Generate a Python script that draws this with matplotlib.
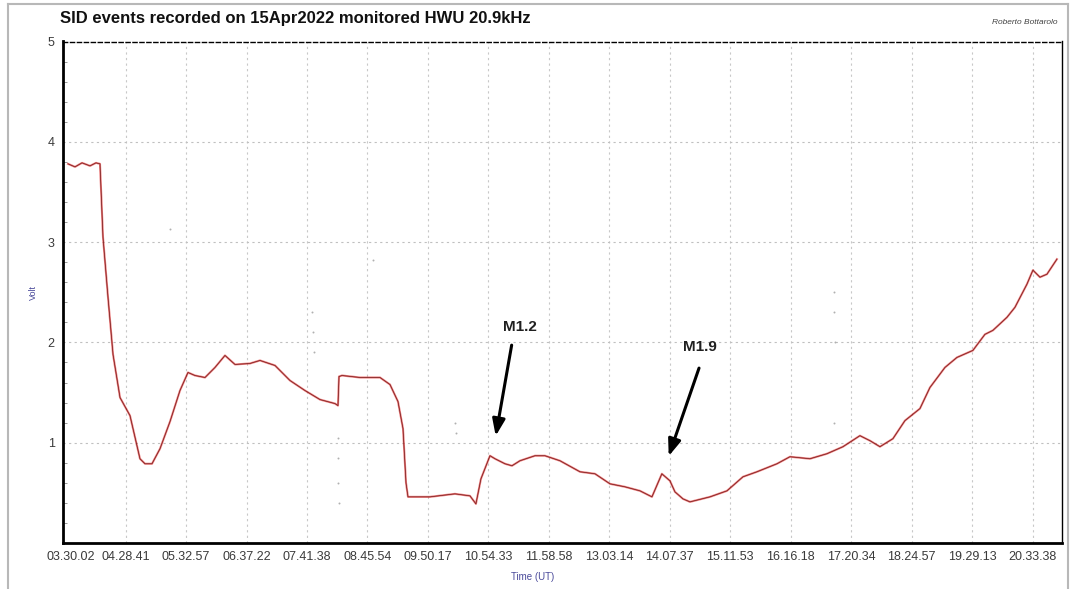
import matplotlib
matplotlib.use("Agg")
import matplotlib.pyplot as plt
from matplotlib.lines import Line2D
from matplotlib.ticker import MultipleLocator

plt.rcParams["font.family"] = ["Liberation Sans", "DejaVu Sans"]

# Tick times (UT) as printed on the time axis
tick_labels = ["03.30.02", "04.28.41", "05.32.57", "06.37.22", "07.41.38",
               "08.45.54", "09.50.17", "10.54.33", "11.58.58", "13.03.14",
               "14.07.37", "15.11.53", "16.16.18", "17.20.34", "18.24.57",
               "19.29.13", "20.33.38"]

# Received signal level, time in decimal hours UT, level in volt
time_h = [3.455, 3.579, 3.703, 3.845, 3.951, 4.022, 4.075, 4.164, 4.253,
          4.377, 4.554, 4.731, 4.820, 4.944, 5.086, 5.263, 5.440, 5.582,
          5.706, 5.884, 6.061, 6.238, 6.416, 6.682, 6.859, 7.125, 7.391,
          7.657, 7.923, 8.189, 8.242, 8.260, 8.313, 8.632, 8.987, 9.164,
          9.306, 9.395, 9.448, 9.483, 9.873, 10.316, 10.582, 10.688, 10.777,
          10.937, 11.026, 11.203, 11.327, 11.469, 11.735, 11.912, 12.178,
          12.533, 12.799, 13.065, 13.331, 13.597, 13.809, 13.985, 14.128,
          14.217, 14.359, 14.483, 14.838, 15.139, 15.423, 15.671, 16.026,
          16.256, 16.611, 16.912, 17.196, 17.497, 17.675, 17.852, 18.082,
          18.295, 18.561, 18.738, 19.004, 19.217, 19.500, 19.713, 19.855,
          20.104, 20.246, 20.458, 20.564, 20.689, 20.813, 20.990]
volt = [3.78, 3.75, 3.79, 3.76, 3.79, 3.78, 3.05, 2.45, 1.88,
        1.45, 1.27, 0.84, 0.79, 0.79, 0.94, 1.21, 1.52, 1.70,
        1.67, 1.65, 1.75, 1.87, 1.78, 1.79, 1.82, 1.77, 1.62,
        1.52, 1.43, 1.39, 1.37, 1.66, 1.67, 1.65, 1.65, 1.58,
        1.41, 1.14, 0.60, 0.46, 0.46, 0.49, 0.47, 0.39, 0.64,
        0.87, 0.84, 0.79, 0.77, 0.82, 0.87, 0.87, 0.82,
        0.71, 0.69, 0.59, 0.56, 0.52, 0.46, 0.69, 0.62,
        0.51, 0.44, 0.41, 0.46, 0.52, 0.66, 0.71, 0.79,
        0.86, 0.84, 0.89, 0.96, 1.07, 1.02, 0.96, 1.04,
        1.22, 1.34, 1.55, 1.75, 1.85, 1.92, 2.08, 2.12,
        2.25, 2.35, 2.58, 2.72, 2.65, 2.68, 2.83]

# Isolated spurious samples
stray_t = [5.26, 7.78, 7.80, 7.82, 8.24, 8.25, 8.24, 8.26, 8.86, 10.31, 10.33,
           17.03, 17.04, 17.05, 17.04]
stray_v = [3.13, 2.30, 2.10, 1.90, 1.05, 0.85, 0.60, 0.40, 2.82, 1.20, 1.10,
           2.50, 2.30, 2.00, 1.20]

# Flare annotations: label, text position, arrow tail and tip
events = ["M1.2", "M1.9"]
event_text = [(11.47, 2.15), (14.66, 1.95)]
event_tail = [(11.33, 2.00), (14.66, 1.77)]
event_tip = [(11.03, 1.04), (14.09, 0.84)]


def to_hours(label):
    h, m, s = (int(p) for p in label.split("."))
    return h + m / 60 + s / 3600


fig = plt.figure(figsize=(10.72, 5.89), dpi=100)
ax = fig.add_axes([63 / 1072, 46 / 589, 999 / 1072, 501.5 / 589])

ax.plot(time_h, volt, color="#e02828", lw=1.5, alpha=0.6, solid_joinstyle="round")
ax.plot(time_h, volt, color="#701818", lw=0.5)
ax.scatter(stray_t, stray_v, s=2, color="#b0b0b0", lw=0)

ax.set_xlim(3.366, 21.08)
ax.set_ylim(0, 5)

ticks = [to_hours(t) for t in tick_labels]
ax.set_xticks(ticks)
ax.set_xticklabels(tick_labels)
ax.set_yticks([1, 2, 3, 4, 5])
ax.yaxis.set_minor_locator(MultipleLocator(0.2))
ax.tick_params(axis="both", which="major", length=0, labelsize=9,
               labelcolor="#3a3a3a", pad=6)
ax.tick_params(axis="y", which="minor", direction="in", length=3,
               color="#888888")
ax.tick_params(axis="x", which="minor", length=0)

# dotted grid lines
for t in ticks[1:]:
    ax.axvline(t, color="#c8c8c8", lw=0.8, ls=(0, (2, 3)), zorder=0)
for v in [1, 2, 3, 4]:
    ax.axhline(v, color="#c0c0c0", lw=0.8, ls=(0, (2, 3)), zorder=0)

ax.spines["left"].set_linewidth(2.0)
ax.spines["bottom"].set_linewidth(2.0)
ax.spines["right"].set_linewidth(1.0)
ax.spines["top"].set_linestyle((0, (3, 2)))
ax.spines["top"].set_linewidth(1.0)
for s in ax.spines.values():
    s.set_color("black")

for name, txt, tail, tip in zip(events, event_text, event_tail, event_tip):
    ax.text(txt[0], txt[1], name, ha="center", va="center", fontsize=11,
            fontweight="bold", color="#202020")
    ax.annotate("", xy=tip, xytext=tail,
                arrowprops=dict(arrowstyle="-|>,head_length=1.0,head_width=0.38",
                                color="black", lw=2.2))

fig.text(60 / 1072, 1 - 18 / 589, "SID events recorded on 15Apr2022 monitored HWU 20.9kHz",
         fontsize=12, fontweight="bold", va="center", ha="left", color="#111111")
fig.text(1058 / 1072, 1 - 22 / 589, "Roberto Bottarolo", fontsize=6,
         style="italic", ha="right", va="center", color="#444444")
fig.text(33 / 1072, 1 - 292 / 589, "Volt", fontsize=6.5, rotation=90,
         ha="center", va="center", color="#4a4a9a")
fig.text(533 / 1072, 1 - 577 / 589, "Time (UT)", fontsize=7,
         ha="center", va="center", color="#4a4a9a")

# light grey panel border
for xy in [([8, 1068], [4, 4]), ([8, 8], [4, 589]), ([1068, 1068], [4, 589])]:
    fig.add_artist(Line2D([x / 1072 for x in xy[0]], [1 - y / 589 for y in xy[1]],
                          color="#b8b8b8", lw=1.5))

fig.savefig("out.png", dpi=100)
